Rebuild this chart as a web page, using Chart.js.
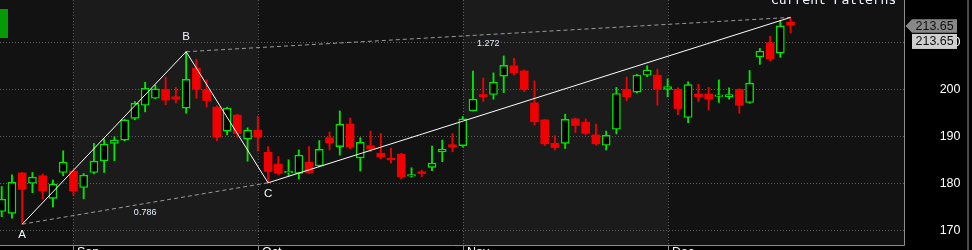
<!DOCTYPE html>
<html><head><meta charset="utf-8">
<script src="https://cdn.jsdelivr.net/npm/chart.js@4"></script>
<style>html,body{margin:0;padding:0;background:#000;overflow:hidden}canvas{display:block}</style>
</head><body>
<canvas id="c" width="972" height="250"></canvas>
<script>
// ---- data ----
const openP  = [174.0,173.6,182.2,180.0,181.6,176.8,182.3,182.6,179.1,182.3,184.8,188.5,189.2,193.8,196.6,198.1,200.0,198.4,196.0,204.5,
                199.9,196.2,191.1,194.5,189.4,191.3,186.6,184.1,182.2,182.1,184.5,183.7,189.7,187.8,192.6,185.4,188.0,186.4,185.2,186.2,
                181.5,182.3,183.4,186.7,188.2,188.0,195.4,198.9,198.9,202.8,205.0,203.9,197.1,193.5,188.5,188.5,193.7,193.0,190.3,188.1,
                191.5,200.0,199.4,203.0,203.0,200.0,200.0,194.0,199.0,199.0,198.5,198.4,200.0,197.2,206.9,209.9,207.7,214.3];
const highP  = [179.3,181.8,182.3,182.3,182.0,180.7,186.9,182.8,182.1,188.5,189.4,189.9,193.6,197.4,201.5,200.9,202.6,200.4,208.0,206.4,
                202.0,196.5,196.2,194.7,191.8,194.3,187.8,185.7,185.0,187.1,187.8,189.1,190.9,195.4,193.9,189.7,191.1,190.6,187.5,186.4,
                183.3,182.8,187.9,189.2,190.6,194.2,203.9,202.4,203.5,207.1,206.6,204.1,201.8,193.6,190.1,194.7,193.9,193.7,192.6,191.1,
                200.4,202.6,203.2,205.0,204.3,202.2,200.3,201.6,201.1,200.4,202.0,200.3,200.1,204.0,208.7,211.3,214.6,215.1];
const lowP   = [172.9,172.6,171.3,178.0,176.7,175.0,181.6,177.4,176.7,182.0,182.3,184.8,189.0,193.5,195.2,198.0,196.7,197.1,194.9,198.1,
                196.2,189.1,190.3,189.8,184.7,186.9,180.1,181.8,181.6,180.9,182.1,183.5,187.1,186.0,187.3,182.6,186.7,185.2,184.3,180.9,
                181.3,181.4,182.7,184.6,186.7,187.7,195.4,197.4,197.9,199.3,203.0,199.5,192.4,188.0,187.1,187.4,190.8,190.3,188.1,187.1,
                190.5,197.6,199.2,202.7,196.6,198.4,194.6,192.9,197.4,195.6,197.2,197.9,194.9,197.0,205.3,206.0,206.8,212.0];
const closeP = [176.6,180.2,178.7,181.3,178.4,179.8,184.5,178.4,181.7,184.7,188.3,189.2,193.5,197.0,200.2,200.1,197.7,197.9,202.1,200.0,
                197.6,189.8,196.0,190.6,191.3,189.8,182.5,182.1,182.4,186.0,182.3,187.2,188.6,192.6,187.7,188.7,187.3,185.6,185.0,181.4,
                181.8,182.1,184.3,187.3,187.7,193.7,197.9,198.4,201.5,205.1,203.5,200.0,193.1,188.4,187.6,193.6,192.3,190.6,188.4,190.2,
                199.1,198.4,203.0,204.1,200.0,200.6,195.9,201.0,198.4,197.9,198.7,198.9,196.6,201.3,208.1,206.5,213.5,213.65];
const yTicks = [170, 180, 190, 200, 210];
const monthIdx = [7, 25, 45, 65];
const monthLabels = ['Sep', 'Oct', 'Nov', 'Dec'];
const patternX = [2, 18, 26, 77];
const patternY = [171.3, 208.0, 180.1, 215.3];
const patternNames = ['A', 'B', 'C'];
const ratioLabels = ['0.786', '1.272'];
const lastPrice = 213.65;
const titleText = 'Current Patterns';

// ---- styles ----
const UP = '#00e800', DOWN = '#f00000';

const idx = openP.map((_, i) => i);
const isUp = idx.map(i => closeP[i] >= openP[i]);
const bodies = idx.map(i => ({x: i, y: [Math.min(openP[i], closeP[i]), Math.max(openP[i], closeP[i])]}));
const wicks = idx.map(i => ({x: i, y: [lowP[i], highP[i]]}));
const pat = patternX.map((x, i) => ({x, y: patternY[i]}));

const deco = {
  id: 'deco',
  beforeDraw(chart) {
    const {ctx, chartArea: a, scales: {x, y}} = chart;
    ctx.save();
    ctx.fillStyle = '#000';
    ctx.fillRect(0, 0, chart.width, chart.height);
    const edges = [a.left, ...monthIdx.map(m => Math.round(x.getPixelForValue(m))), a.right];
    for (let k = 0; k < edges.length - 1; k++) {
      ctx.fillStyle = (k % 2) ? '#1b1b1b' : '#121212';
      ctx.fillRect(edges[k], a.top, edges[k + 1] - edges[k], a.bottom - a.top);
    }
    ctx.strokeStyle = '#5e5e5e';
    ctx.lineWidth = 1;
    ctx.setLineDash([1, 2]);
    yTicks.forEach(v => {
      const py = Math.round(y.getPixelForValue(v)) + 0.5;
      ctx.beginPath(); ctx.moveTo(a.left, py); ctx.lineTo(a.right, py); ctx.stroke();
    });
    monthIdx.forEach(m => {
      const px = Math.round(x.getPixelForValue(m)) + 0.5;
      ctx.beginPath(); ctx.moveTo(px, a.top); ctx.lineTo(px, a.bottom); ctx.stroke();
    });
    ctx.restore();
  },
  afterDatasetsDraw(chart) {
    const {ctx, chartArea: a, scales: {x, y}} = chart;
    ctx.save();
    // pattern point labels
    const offs = [11, -14.5, 11];
    ctx.fillStyle = '#f2f6ff';
    ctx.font = '11.5px "Liberation Sans", Arial, sans-serif';
    ctx.textAlign = 'center'; ctx.textBaseline = 'middle';
    patternNames.forEach((n, i) => {
      ctx.fillText(n, x.getPixelForValue(patternX[i]), y.getPixelForValue(patternY[i]) + offs[i]);
    });
    // ratio labels at midpoints of dashed legs
    ctx.font = '9px "Liberation Sans", Arial, sans-serif';
    ctx.fillStyle = '#e4eeff';
    const legs = [[0, 2], [1, 3]];
    legs.forEach((l, k) => {
      const mx = (x.getPixelForValue(patternX[l[0]]) + x.getPixelForValue(patternX[l[1]])) / 2;
      const my = (y.getPixelForValue(patternY[l[0]]) + y.getPixelForValue(patternY[l[1]])) / 2;
      ctx.fillText(ratioLabels[k], mx, my + 9.3);
    });
    // title (clipped at top)
    ctx.font = '13px "DejaVu Sans Mono", monospace';
    ctx.textAlign = 'left'; ctx.textBaseline = 'alphabetic';
    ctx.fillStyle = '#eef4ff';
    ctx.fillText(titleText, 771, 4);
    // green marker
    ctx.fillStyle = '#079a07';
    ctx.fillRect(0, 9, 8, 29);
    ctx.restore();
  },
  afterDraw(chart) {
    const {ctx, chartArea: a, scales: {x, y}} = chart;
    ctx.save();
    // axes frame
    ctx.strokeStyle = '#8c8c8c'; ctx.lineWidth = 1;
    ctx.beginPath(); ctx.moveTo(a.right + 0.5, 0); ctx.lineTo(a.right + 0.5, a.bottom + 0.5); ctx.stroke();
    ctx.beginPath(); ctx.moveTo(0, a.bottom + 0.5); ctx.lineTo(a.right + 0.5, a.bottom + 0.5); ctx.stroke();
    monthIdx.forEach(m => {
      const px = Math.round(x.getPixelForValue(m)) + 0.5;
      ctx.beginPath(); ctx.moveTo(px, a.bottom); ctx.lineTo(px, chart.height); ctx.stroke();
    });
    ctx.fillStyle = '#4a4a4a';
    ctx.fillRect(967, 0, 2, chart.height);
    // month labels (mostly cut off by the bottom edge)
    ctx.font = '12.5px "Liberation Sans", Arial, sans-serif';
    ctx.fillStyle = '#ffffff';
    ctx.textAlign = 'left'; ctx.textBaseline = 'top';
    monthIdx.forEach((m, i) => ctx.fillText(monthLabels[i], Math.round(x.getPixelForValue(m)) + 4, a.bottom + 1.5));
    // y tick labels
    ctx.textAlign = 'right'; ctx.textBaseline = 'middle';
    yTicks.forEach(v => ctx.fillText(String(v), 960.5, y.getPixelForValue(v)));
    // last price boxes
    const py = y.getPixelForValue(lastPrice) + 0.8;
    ctx.fillStyle = '#888888';
    ctx.beginPath();
    ctx.moveTo(905.5, py); ctx.lineTo(912, py - 6.7); ctx.lineTo(957, py - 6.7);
    ctx.lineTo(957, py + 6.7); ctx.lineTo(912, py + 6.7); ctx.closePath(); ctx.fill();
    ctx.fillStyle = '#cfcfcf';
    ctx.fillRect(912, py + 8, 45, 15);
    ctx.fillStyle = '#111111';
    ctx.textAlign = 'left';
    ctx.fillText(lastPrice.toFixed(2), 915.5, py + 0.5);
    ctx.fillText(lastPrice.toFixed(2), 915.5, py + 15.8);
    ctx.restore();
  }
};

new Chart(document.getElementById('c'), {
  type: 'bar',
  data: {
    datasets: [
      {type: 'line', data: pat, borderColor: '#ffffff', borderWidth: 1, pointRadius: 0, tension: 0, order: 0},
      {type: 'line', data: [pat[0], pat[2]], borderColor: '#9a9a9a', borderWidth: 1, borderDash: [4, 3], pointRadius: 0, order: 0},
      {type: 'line', data: [pat[1], pat[3]], borderColor: '#9a9a9a', borderWidth: 1, borderDash: [4, 3], pointRadius: 0, order: 0},
      {type: 'bar', data: bodies, grouped: false, barThickness: 8, minBarLength: 1.6, borderSkipped: false,
       backgroundColor: isUp.map(u => u ? '#000000' : DOWN),
       borderColor: isUp.map(u => u ? UP : DOWN),
       borderWidth: isUp.map(u => u ? 1.4 : 0), order: 1},
      {type: 'bar', data: wicks, grouped: false, barThickness: 1.2,
       backgroundColor: isUp.map(u => u ? UP : DOWN), borderWidth: 0, order: 2}
    ]
  },
  options: {
    responsive: false, animation: false, devicePixelRatio: 1, events: [],
    layout: {padding: {left: 0, right: 68, top: 0, bottom: 5}},
    plugins: {legend: {display: false}, tooltip: {enabled: false}},
    scales: {
      x: {type: 'linear', min: -0.166, max: 88.07, display: false, offset: false},
      y: {type: 'linear', min: 166.87, max: 219.0, display: false}
    }
  },
  plugins: [deco]
});
</script>
</body></html>
